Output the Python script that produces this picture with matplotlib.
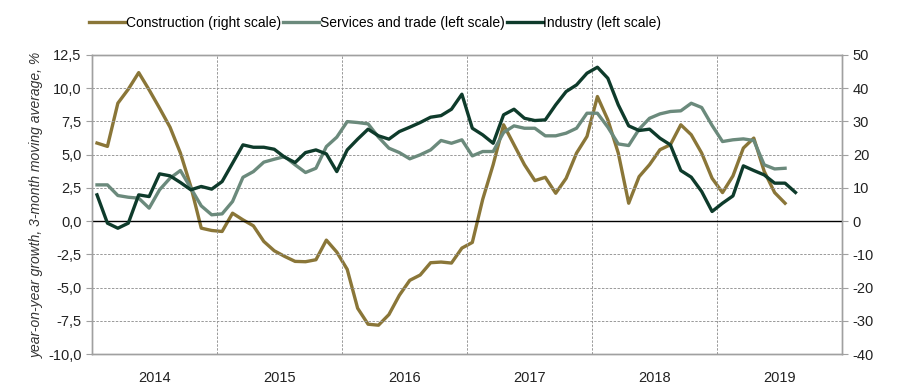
import numpy as np
import matplotlib.pyplot as plt
from matplotlib.ticker import FuncFormatter

plt.rcParams['font.family'] = ['Liberation Sans', 'DejaVu Sans']
plt.rcParams['axes.unicode_minus'] = False

# monthly data, Jan 2014 onwards
construction = [23.5, 22.5, 35.5, 39.7, 44.7, 39.5, 34.0, 28.3, 20.5, 10.4, -2.1, -2.8,
                -3.1, 2.4, 0.4, -1.4, -6.1, -8.9, -10.6, -12.1, -12.2, -11.6, -5.7, -9.3,
                -14.5, -26.2, -31.0, -31.3, -28.1, -22.3, -17.8, -16.2, -12.5, -12.3, -12.6, -8.1,
                -6.4, 6.6, 17.0, 29.0, 23.0, 17.0, 12.2, 13.2, 8.4, 12.9, 20.5, 25.5,
                37.5, 30.5, 20.5, 5.4, 13.4, 17.0, 21.5, 23.0, 29.0, 26.0, 20.5, 12.9,
                8.6, 13.6, 22.0, 25.0, 15.0, 8.6, 5.4]
services = [2.73, 2.73, 1.93, 1.8, 1.73, 0.98, 2.36, 3.23, 3.81, 2.48, 1.15, 0.48,
            0.55, 1.48, 3.3, 3.73, 4.44, 4.66, 4.86, 4.24, 3.66, 3.98, 5.61, 6.32,
            7.49, 7.42, 7.32, 6.32, 5.49, 5.16, 4.69, 4.99, 5.36, 6.07, 5.86, 6.12,
            4.91, 5.24, 5.24, 6.67, 7.17, 6.99, 6.99, 6.42, 6.42, 6.62, 6.99, 8.12,
            8.12, 7.07, 5.81, 5.69, 6.92, 7.74, 8.07, 8.25, 8.3, 8.87, 8.55, 7.2,
            5.99, 6.12, 6.19, 6.07, 4.24, 3.93, 3.98]
industry = [1.98, -0.15, -0.53, -0.15, 1.98, 1.85, 3.56, 3.41, 2.91, 2.36, 2.61, 2.41,
            2.98, 4.36, 5.74, 5.56, 5.56, 5.41, 4.81, 4.41, 5.16, 5.36, 5.06, 3.73,
            5.36, 6.17, 6.92, 6.42, 6.17, 6.74, 7.07, 7.42, 7.82, 7.94, 8.42, 9.55,
            6.99, 6.49, 5.86, 8.0, 8.42, 7.74, 7.57, 7.62, 8.75, 9.75, 10.25, 11.13,
            11.58, 10.75, 8.75, 7.17, 6.82, 6.92, 6.24, 5.74, 3.81, 3.31, 2.23, 0.73,
            1.35, 1.9, 4.16, 3.81, 3.48, 2.86, 2.86, 2.16]
years = ['2014', '2015', '2016', '2017', '2018', '2019']

c_con = '#8a7638'
c_ser = '#6b8a7c'
c_ind = '#0e3b2b'
grey = '#a0a0a0'
fs = 10.5

fig = plt.figure(figsize=(9, 3.9), dpi=100)
ax = fig.add_axes([0.102, 0.092, 0.834, 0.767])
ax2 = ax.twinx()

xs_con = np.arange(len(construction)) + 0.5
xs_ser = np.arange(len(services)) + 0.5
xs_ind = np.arange(len(industry)) + 0.5

l1, = ax2.plot(xs_con, construction, color=c_con, lw=2.4, label='Construction (right scale)')
l2, = ax.plot(xs_ser, services, color=c_ser, lw=2.4, label='Services and trade (left scale)')
l3, = ax.plot(xs_ind, industry, color=c_ind, lw=2.4, label='Industry (left scale)')
ax.set_zorder(ax2.get_zorder() + 1)
ax.patch.set_visible(False)

ax.set_xlim(0, 72)
ax.set_ylim(-10, 12.5)
ax2.set_ylim(-40, 50)
ax.set_yticks(np.arange(-10, 12.6, 2.5))
ax2.set_yticks(np.arange(-40, 51, 10))
ax.yaxis.set_major_formatter(FuncFormatter(lambda v, p: f'{v:.1f}'.replace('.', ',')))

ax.set_xticks(np.arange(0, 73, 12))
ax.set_xticklabels([])
ax.set_xticks(np.arange(6, 72, 12), minor=True)
ax.set_xticklabels(years, minor=True)
ax.tick_params(axis='x', which='both', length=0, labelsize=fs, colors='#222222', pad=12)
ax.tick_params(axis='y', length=4, color=grey, labelsize=fs, labelcolor='#222222')
ax2.tick_params(axis='y', length=4, color=grey, labelsize=fs, labelcolor='#222222')

for y in np.arange(-7.5, 12.5, 2.5):
    if abs(y) > 1e-9:
        ax.axhline(y, color='#999999', lw=0.7, ls=(0, (2.5, 1.5)), zorder=0)
for x in range(12, 72, 12):
    ax.axvline(x, color='#999999', lw=0.7, ls=(0, (2.5, 1.5)), zorder=0)
ax.axhline(0, color='black', lw=1.0, zorder=1)

for a in (ax, ax2):
    for s in a.spines.values():
        s.set_color(grey)
        s.set_linewidth(1.0)

ax.set_ylabel('year-on-year growth, 3-month moving average, %', fontsize=10,
              style='italic', color='#333333', labelpad=3)

fig.legend(handles=[l1, l2, l3], loc='upper left', bbox_to_anchor=(0.088, 0.985), ncol=3,
           frameon=False, fontsize=10, handlelength=2.6, handletextpad=0.05,
           columnspacing=0.15, borderaxespad=0.3)

fig.savefig('out.png', dpi=100)
